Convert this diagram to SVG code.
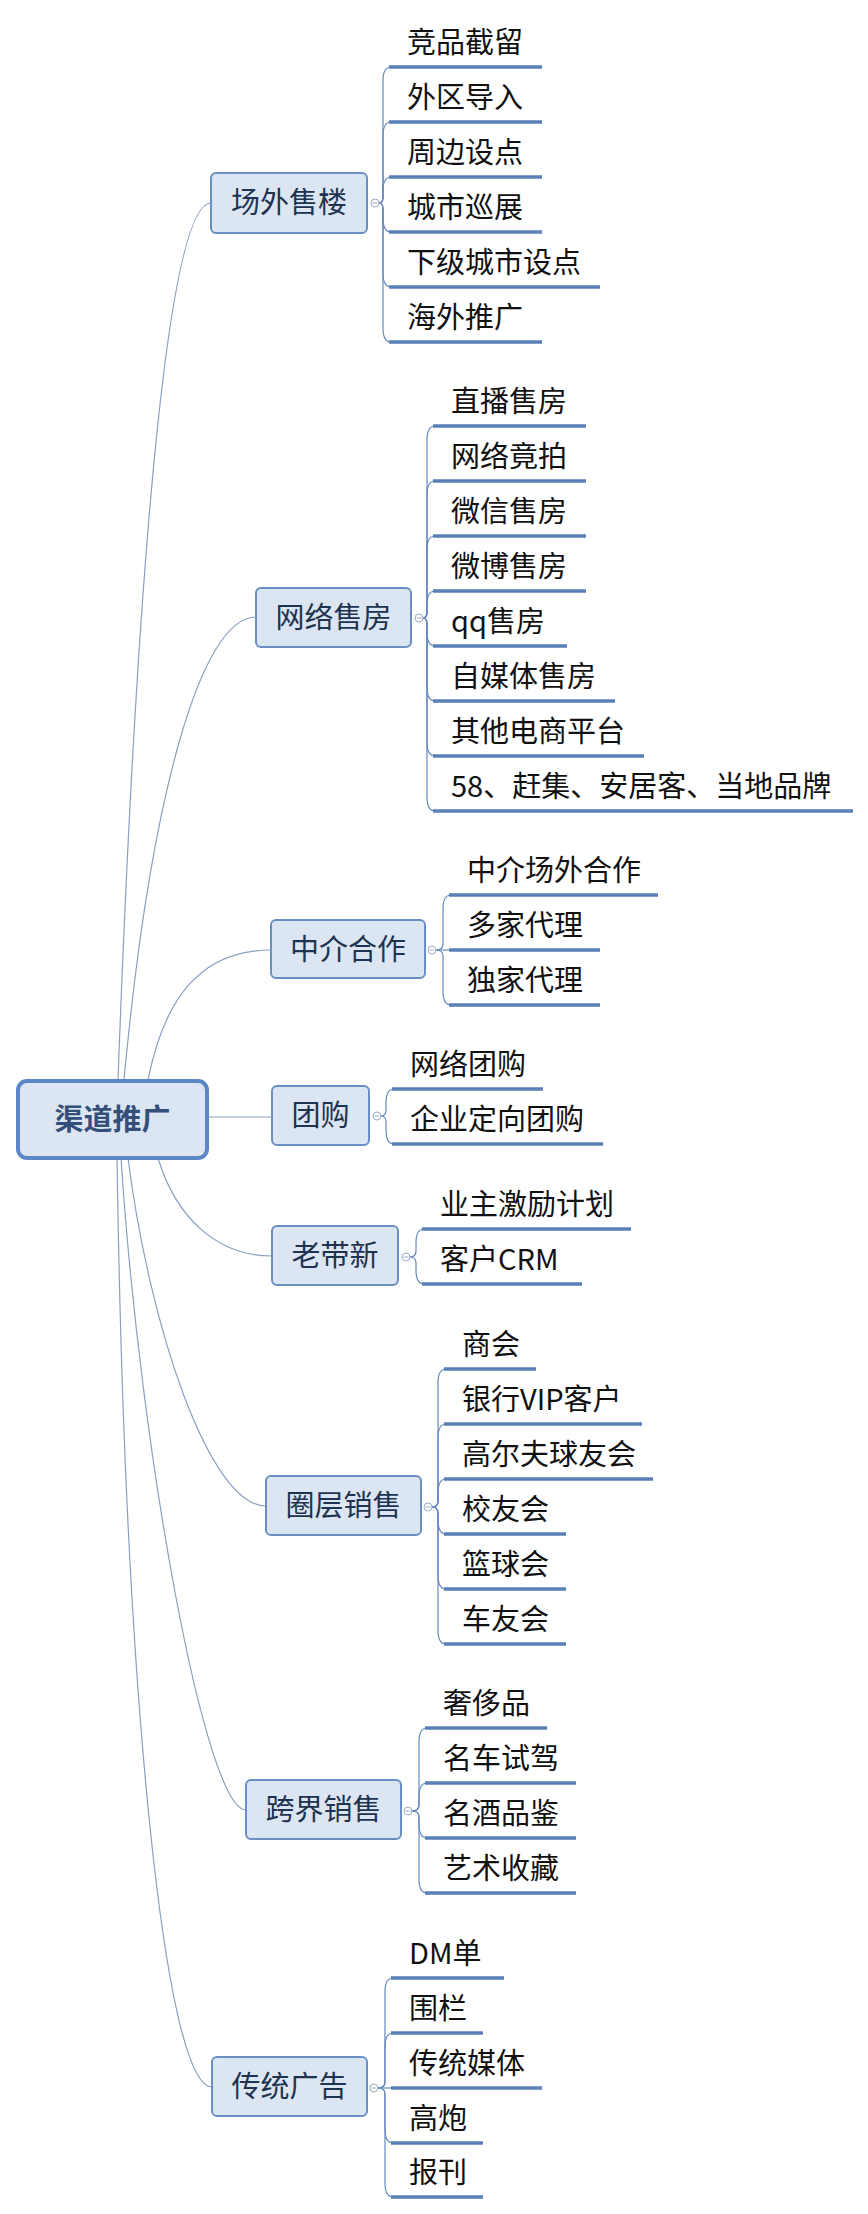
<svg xmlns="http://www.w3.org/2000/svg" width="868" height="2214" viewBox="0 0 868 2214">
<style>
text{font-family:"Noto Sans CJK SC","Noto Sans",sans-serif}
.main{fill:#dce6f2;stroke:#5b87c6;stroke-width:4}
.mt{font-size:29px;font-weight:bold;fill:#34507a;text-anchor:middle}
.br{fill:#dce6f2;stroke:#6a8fc4;stroke-width:2}
.bt{font-size:29px;fill:#1e3350;text-anchor:middle}
.lt{font-size:29px;fill:#111}
.ul{stroke:#5a80b8;stroke-width:3.5;fill:none}
.mc{stroke:#8aa0c0;stroke-width:1.2;fill:none}
.cc{stroke:#6589c0;stroke-width:1.2;fill:none}
.col{fill:#fff;stroke:#9aacc6;stroke-width:1}
.colm{stroke:#9aacc6;stroke-width:1}
</style>
<rect width="868" height="2214" fill="#fff"/>
<g id="connectors">
<path class="mc" d="M118,1080 C132,700 160,203 211,203"/>
<path class="mc" d="M124,1080 C150,800 200,617 256,617"/>
<path class="mc" d="M148,1080 C163,1005 196,950 271,950"/>
<path class="mc" d="M207,1117 L272,1117"/>
<path class="mc" d="M158,1158 C175,1215 215,1256 272,1256"/>
<path class="mc" d="M128,1158 C150,1330 210,1506 266,1506"/>
<path class="mc" d="M121,1158 C140,1450 205,1810 246,1810"/>
<path class="mc" d="M117,1158 C125,1700 165,2087 212,2087"/>
<!-- branch 1 -->
<path class="cc" d="M379,203 Q383,203 383,197 L383,81 Q383,67 391,67"/>
<path class="cc" d="M379,203 Q383,203 383,197 L383,136 Q383,122 391,122"/>
<path class="cc" d="M379,203 Q383,203 383,197 L383,191 Q383,177 391,177"/>
<path class="cc" d="M379,203 Q383,203 383,209 L383,218 Q383,232 391,232"/>
<path class="cc" d="M379,203 Q383,203 383,209 L383,273 Q383,287 391,287"/>
<path class="cc" d="M379,203 Q383,203 383,209 L383,328 Q383,342 391,342"/>
<!-- branch 2 -->
<path class="cc" d="M423,618 Q427,618 427,612 L427,440 Q427,426 435,426"/>
<path class="cc" d="M423,618 Q427,618 427,612 L427,495 Q427,481 435,481"/>
<path class="cc" d="M423,618 Q427,618 427,612 L427,550 Q427,536 435,536"/>
<path class="cc" d="M423,618 Q427,618 427,612 L427,605 Q427,591 435,591"/>
<path class="cc" d="M423,618 Q427,618 427,624 L427,632 Q427,646 435,646"/>
<path class="cc" d="M423,618 Q427,618 427,624 L427,687 Q427,701 435,701"/>
<path class="cc" d="M423,618 Q427,618 427,624 L427,742 Q427,756 435,756"/>
<path class="cc" d="M423,618 Q427,618 427,624 L427,797 Q427,811 435,811"/>
<!-- branch 3 -->
<path class="cc" d="M436,950 Q443,950 443,944 L443,909 Q443,895 451,895"/>
<path class="cc" d="M436,950 L451,950"/>
<path class="cc" d="M436,950 Q443,950 443,956 L443,991 Q443,1005 451,1005"/>
<!-- branch 4 -->
<path class="cc" d="M381,1116 Q386,1116 386,1110 L386,1103 Q386,1089 394,1089"/>
<path class="cc" d="M381,1116 Q386,1116 386,1122 L386,1130 Q386,1144 394,1144"/>
<!-- branch 5 -->
<path class="cc" d="M410,1257 Q416,1257 416,1251 L416,1243 Q416,1229 424,1229"/>
<path class="cc" d="M410,1257 Q416,1257 416,1263 L416,1270 Q416,1284 424,1284"/>
<!-- branch 6 -->
<path class="cc" d="M432,1507 Q438,1507 438,1501 L438,1383 Q438,1369 446,1369"/>
<path class="cc" d="M432,1507 Q438,1507 438,1501 L438,1438 Q438,1424 446,1424"/>
<path class="cc" d="M432,1507 Q438,1507 438,1501 L438,1493 Q438,1479 446,1479"/>
<path class="cc" d="M432,1507 Q438,1507 438,1513 L438,1520 Q438,1534 446,1534"/>
<path class="cc" d="M432,1507 Q438,1507 438,1513 L438,1575 Q438,1589 446,1589"/>
<path class="cc" d="M432,1507 Q438,1507 438,1513 L438,1630 Q438,1644 446,1644"/>
<!-- branch 7 -->
<path class="cc" d="M412,1811 Q419,1811 419,1805 L419,1742 Q419,1728 427,1728"/>
<path class="cc" d="M412,1811 Q419,1811 419,1805 L419,1797 Q419,1783 427,1783"/>
<path class="cc" d="M412,1811 Q419,1811 419,1817 L419,1824 Q419,1838 427,1838"/>
<path class="cc" d="M412,1811 Q419,1811 419,1817 L419,1879 Q419,1893 427,1893"/>
<!-- branch 8 -->
<path class="cc" d="M378,2088 Q385,2088 385,2082 L385,1992 Q385,1978 393,1978"/>
<path class="cc" d="M378,2088 Q385,2088 385,2082 L385,2047 Q385,2033 393,2033"/>
<path class="cc" d="M378,2088 L393,2088"/>
<path class="cc" d="M378,2088 Q385,2088 385,2094 L385,2129 Q385,2143 393,2143"/>
<path class="cc" d="M378,2088 Q385,2088 385,2094 L385,2183 Q385,2197 393,2197"/>
</g>
<g id="root">
<rect class="main" x="18" y="1081" width="189" height="77" rx="9"/>
<text class="mt" x="112.5" y="1130">渠道推广</text>
</g>
<g id="n1">
<rect class="br" x="211" y="173" width="156" height="60" rx="5"/>
<text class="bt" x="289" y="213">场外售楼</text>
<circle class="col" cx="375" cy="203" r="4"/><path class="colm" d="M372.5,203 H377.5"/>
</g>
<g id="n1-leaves">
<path class="ul" d="M389,67 H542 M389,122 H542 M389,177 H542 M389,232 H542 M389,287 H600 M389,342 H542"/>
<text class="lt" x="407" y="53">竞品截留</text>
<text class="lt" x="407" y="108">外区导入</text>
<text class="lt" x="407" y="163">周边设点</text>
<text class="lt" x="407" y="218">城市巡展</text>
<text class="lt" x="407" y="273">下级城市设点</text>
<text class="lt" x="407" y="328">海外推广</text>
</g>
<g id="n2">
<rect class="br" x="256" y="588" width="155" height="59" rx="5"/>
<text class="bt" x="333.5" y="628">网络售房</text>
<circle class="col" cx="419" cy="618" r="4"/><path class="colm" d="M416.5,618 H421.5"/>
</g>
<g id="n2-leaves">
<path class="ul" d="M433,426 H586 M433,481 H586 M433,536 H586 M433,591 H586 M433,646 H567 M433,701 H615 M433,756 H644 M433,811 H853"/>
<text class="lt" x="451" y="412">直播售房</text>
<text class="lt" x="451" y="467">网络竟拍</text>
<text class="lt" x="451" y="522">微信售房</text>
<text class="lt" x="451" y="577">微博售房</text>
<text class="lt" x="451" y="632">qq售房</text>
<text class="lt" x="451" y="687">自媒体售房</text>
<text class="lt" x="451" y="742">其他电商平台</text>
<text class="lt" x="451" y="797">58、赶集、安居客、当地品牌</text>
</g>
<g id="n3">
<rect class="br" x="271" y="920" width="154" height="58" rx="5"/>
<text class="bt" x="348" y="960">中介合作</text>
<circle class="col" cx="432" cy="950" r="4"/><path class="colm" d="M429.5,950 H434.5"/>
</g>
<g id="n3-leaves">
<path class="ul" d="M449,895 H658 M449,950 H600 M449,1005 H600"/>
<text class="lt" x="467" y="881">中介场外合作</text>
<text class="lt" x="467" y="936">多家代理</text>
<text class="lt" x="467" y="991">独家代理</text>
</g>
<g id="n4">
<rect class="br" x="272" y="1086" width="97" height="59" rx="5"/>
<text class="bt" x="320.5" y="1126">团购</text>
<circle class="col" cx="377" cy="1116" r="4"/><path class="colm" d="M374.5,1116 H379.5"/>
</g>
<g id="n4-leaves">
<path class="ul" d="M392,1089 H543 M392,1144 H603"/>
<text class="lt" x="410" y="1075">网络团购</text>
<text class="lt" x="410" y="1130">企业定向团购</text>
</g>
<g id="n5">
<rect class="br" x="272" y="1226" width="126" height="59" rx="5"/>
<text class="bt" x="335" y="1266">老带新</text>
<circle class="col" cx="406" cy="1257" r="4"/><path class="colm" d="M403.5,1257 H408.5"/>
</g>
<g id="n5-leaves">
<path class="ul" d="M422,1229 H631 M422,1284 H582"/>
<text class="lt" x="440" y="1215">业主激励计划</text>
<text class="lt" x="440" y="1270">客户CRM</text>
</g>
<g id="n6">
<rect class="br" x="266" y="1476" width="155" height="59" rx="5"/>
<text class="bt" x="343.5" y="1516">圈层销售</text>
<circle class="col" cx="428" cy="1507" r="4"/><path class="colm" d="M425.5,1507 H430.5"/>
</g>
<g id="n6-leaves">
<path class="ul" d="M444,1369 H536 M444,1424 H642 M444,1479 H653 M444,1534 H566 M444,1589 H566 M444,1644 H566"/>
<text class="lt" x="462" y="1355">商会</text>
<text class="lt" x="462" y="1410">银行VIP客户</text>
<text class="lt" x="462" y="1465">高尔夫球友会</text>
<text class="lt" x="462" y="1520">校友会</text>
<text class="lt" x="462" y="1575">篮球会</text>
<text class="lt" x="462" y="1630">车友会</text>
</g>
<g id="n7">
<rect class="br" x="246" y="1780" width="155" height="59" rx="5"/>
<text class="bt" x="323.5" y="1820">跨界销售</text>
<circle class="col" cx="408" cy="1811" r="4"/><path class="colm" d="M405.5,1811 H410.5"/>
</g>
<g id="n7-leaves">
<path class="ul" d="M425,1728 H547 M425,1783 H576 M425,1838 H576 M425,1893 H576"/>
<text class="lt" x="443" y="1714">奢侈品</text>
<text class="lt" x="443" y="1769">名车试驾</text>
<text class="lt" x="443" y="1824">名酒品鉴</text>
<text class="lt" x="443" y="1879">艺术收藏</text>
</g>
<g id="n8">
<rect class="br" x="212" y="2057" width="155" height="59" rx="5"/>
<text class="bt" x="289.5" y="2097">传统广告</text>
<circle class="col" cx="374" cy="2088" r="4"/><path class="colm" d="M371.5,2088 H376.5"/>
</g>
<g id="n8-leaves">
<path class="ul" d="M391,1978 H504 M391,2033 H483 M391,2088 H542 M391,2143 H483 M391,2197 H483"/>
<text class="lt" x="409" y="1964">DM单</text>
<text class="lt" x="409" y="2019">围栏</text>
<text class="lt" x="409" y="2074">传统媒体</text>
<text class="lt" x="409" y="2129">高炮</text>
<text class="lt" x="409" y="2183">报刊</text>
</g>
</svg>
